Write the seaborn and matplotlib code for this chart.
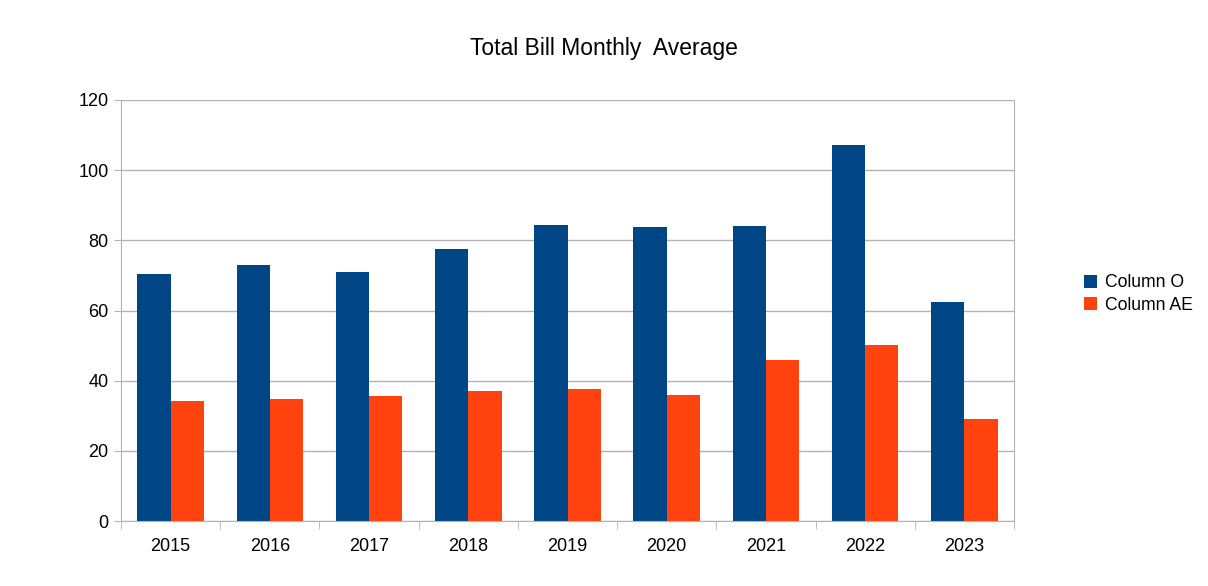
import pandas as pd
import numpy as np
import matplotlib
matplotlib.use("Agg")
import matplotlib.pyplot as plt
import seaborn as sns

years = ["2015", "2016", "2017", "2018", "2019", "2020", "2021", "2022", "2023"]
column_o = [70.4, 73.1, 71.0, 77.5, 84.4, 83.8, 84.1, 107.3, 62.3]
column_ae = [34.3, 34.9, 35.7, 37.1, 37.6, 35.9, 45.9, 50.2, 29.0]
series_names = ["Column O", "Column AE"]
colors = ["#004586", "#ff420e"]

df = pd.DataFrame({
    "Year": years * 2,
    "Value": column_o + column_ae,
    "Series": [series_names[0]] * len(years) + [series_names[1]] * len(years),
})

sns.set_style("white")
plt.rcParams["font.family"] = ["Liberation Sans", "DejaVu Sans"]
plt.rcParams["text.color"] = "black"
plt.rcParams["xtick.color"] = "black"
plt.rcParams["ytick.color"] = "black"

fig = plt.figure(figsize=(12.08, 5.86), dpi=100)
ax = fig.add_axes([121 / 1208, 1 - 521 / 586, 893 / 1208, 421 / 586])

sns.barplot(data=df, x="Year", y="Value", hue="Series", palette=colors,
            width=0.67, gap=0, saturation=1, ax=ax, legend=True, linewidth=0)

ax.set_ylim(0, 120)
ax.set_xlim(-0.5, len(years) - 0.5)
ax.set_yticks(range(0, 121, 20))
ax.yaxis.grid(True, color="#b3b3b3", linewidth=1)
ax.set_axisbelow(True)
ax.set_xlabel("")
ax.set_ylabel("")
ax.tick_params(axis="x", length=0, labelsize=13, pad=12, labelcolor="black")
ax.tick_params(axis="y", length=5, color="#b3b3b3", labelsize=13, pad=4,
               left=True, labelcolor="black")
ax.set_xticks(np.arange(-0.5, len(years), 1), minor=True)
ax.tick_params(axis="x", which="minor", length=6, color="#b3b3b3", bottom=True)
for side in ["left", "right", "bottom"]:
    ax.spines[side].set_color("#b3b3b3")
    ax.spines[side].set_visible(True)
ax.spines["top"].set_visible(False)

fig.text(604 / 1208, 1 - 49 / 586, "Total Bill Monthly  Average", ha="center",
         va="center", fontsize=16.5, color="black")

ax.legend(loc="center left", bbox_to_anchor=(1084 / 1208, 1 - 294 / 586),
          bbox_transform=fig.transFigure, frameon=False, fontsize=12.7,
          handlelength=0.75, handleheight=0.75, handletextpad=0.45,
          labelspacing=0.3, borderaxespad=0, borderpad=0)

fig.savefig("out.png", dpi=100, facecolor="white")
